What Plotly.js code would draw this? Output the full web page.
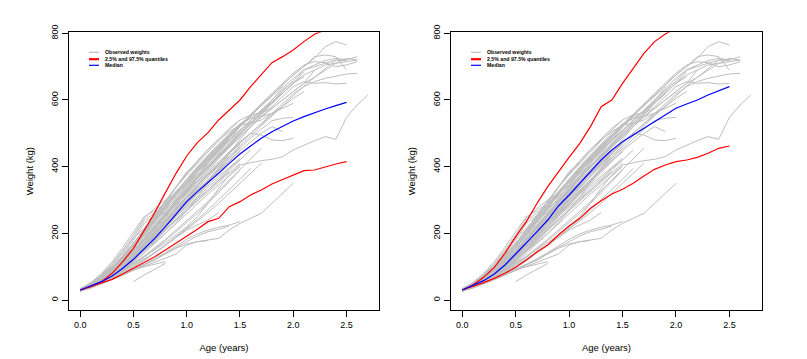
<!DOCTYPE html>
<html>
<head>
<meta charset="utf-8">
<script src="https://cdn.plot.ly/plotly-3.0.1.min.js"></script>
<style>
body { margin: 0; background: #fff; }
#myDiv { width: 807px; height: 359px; }
</style>
</head>
<body>
<div id="myDiv"></div>
<script>
/*******************************************************************************************
										Data
*******************************************************************************************/

// ages of the observed weights (years)
var ageGrid = [0.0,0.1,0.2,0.3,0.4,0.5,0.6,0.7,0.8,0.9,1.0,1.1,1.2,1.3,1.4,1.5,1.6,1.7,1.8,1.9,2.0,2.1,2.2,2.3,2.4,2.5,2.6,2.7];

// one row per animal, index matches ageGrid, null = not weighed
var observedWeights = [
	[30,45,62,85,112,145,180,215,255,292,330,365,400,440,480,520],
	[28,40,55,78,105,135,168,200,232,262,290,318,345,372,398,425],
	[32,48,68,92,120,155,192,230,268,305,340,372,405,438,470,500,530],
	[27,38,52,70,92,118,148,180,212,245,275,305,330,358,385],
	[31,47,66,90,122,158,198,240,280,318,355,390,425,458,490,525,555],
	[29,42,58,80,106,134,165,195,225,252,280,310,338,365,395,420],
	[30,44,60,82,110,142,176,212,250,285,318,350,380,412,440,468],
	[26,36,50,66,88,112,140,170,198,228,258,288,318,345,372,400],
	[33,50,70,96,128,165,205,245,285,322,358,392,428,462,495,528],
	[28,41,56,76,100,128,158,190,222,255,288,322,355,390,425,460],
	[30,46,64,88,116,150,188,225,262,298,332,365,398,430,460,488],
	[27,39,54,72,95,122,152,182,212,240,268,296,325,352,380,410],
	[31,45,63,86,114,146,182,220,258,296,332,368,402,435,468,500],
	[29,43,60,83,110,140,172,205,238,270,300,330,360,390,418,445],
	[32,49,70,98,132,170,212,252,290,326,360,395,430,462,495],
	[28,40,54,73,97,124,155,188,220,252,285,318,350,382,415,448],
	[30,45,62,84,112,144,180,218,255,290,325,358,392,425,458],
	[26,37,50,68,90,116,145,176,208,240,270,300,330,360,390,420,450],
	[34,52,74,100,132,170,212,255,298,338,375,410,445,478,510,540],
	[29,42,57,78,102,130,160,192,225,258,292,325,360,395,430],
	[31,46,63,86,115,148,185,222,258,292,325,355,385,415,445,475,500],
	[28,40,55,75,100,128,160,195,230,265,300,335,370,405,440],
	[30,44,60,82,110,142,178,215,252,290,328,365,400,435,470,505,540,570,600,630,655],
	[29,42,58,79,104,133,166,200,236,272,308,342,376,410,442,472,500,528,555,580,605,625],
	[31,47,66,90,120,155,194,235,275,315,352,388,422,455,488,520,552,582,610,640],
	[27,39,54,74,98,126,158,192,226,260,292,325,356,388,418,448,475,500,520,505],
	[32,48,68,93,123,158,197,238,278,316,352,385,418,450,480,510,540,568,595,620,650,685],
	[28,41,56,76,101,130,162,197,232,266,298,330,360,392,425,455,485,512,538,545,548],
	[30,45,63,86,114,147,184,222,260,297,332,366,398,430,462,495,528,560,590,620],
	[29,43,59,80,106,136,170,206,242,278,312,345,378,410,442,472,500,495,480,478,485],
	[30,46,65,90,120,155,195,236,276,315,352,388,422,455,488,520,552,585,615,645,675,700,725,760,775,765],
	[29,43,60,82,110,142,178,216,254,292,328,364,398,432,465,498,530,562,595,628,660,690,705,718,725,720,730],
	[31,47,66,91,122,158,198,240,282,322,360,396,430,462,494,525,556,588,620,650,680,705,715,712,700,705,715],
	[28,41,57,78,104,134,168,204,240,276,310,344,376,408,440,470,500,530,560,590,618,640,655,665,672,678,680],
	[30,44,61,84,112,144,180,218,256,294,330,364,398,430,460,490,520,550,580,610,640,655,650,652,648,650],
	[27,40,55,76,101,130,163,198,234,270,304,338,370,402,432,462,492,522,552,582,612,642,668,695,720,718],
	[32,48,68,94,125,162,202,244,285,325,362,398,432,465,496,526,556,586,615,645,675,700,730,735,730,690],
	[30,42,56,72,90,110,130,150,172,195,220,250,290,335,375,405,412,418,422,430,450,465,478,490,482,548,585,615],
	[null,null,null,null,null,55,75,92,110],
	[28,40,55,68,80,92,105,120,140,158,175,192,205,212,222],
	[30,40,52,64,76,88,100,112,125,138,165,175,180,185,210,230,245,260,290,320,350],
	[29,38,50,62,75,90,105,120,138,155,168,175,178],
	[27,36,48,60,74,90,106,124,142,162,182,198,210,218,225,235],
	[null,null,null,65,80,92,100,108,115],
	[30,41,55,70,86,104,122,142,165,188,210,225,240,262],
	[30,48,70,98,135,180,230,255,275,300,335,370,410,445,480,510],
	[31,50,74,105,145,185,215,248,262,290,325],
	[29,46,68,96,130,170,210,240,270,305,345,385,420,455,490,520,548],
	[28,38,50,66,88,115,150,190,235,280,325,368,410,450,490,525,545,550,560,575,590],
	[30,45,62,80,100,122,146,172,200,232,268,308,350,395,440,482,520,555,590,620,650,675,690,705,710,715,720],
	[30,50,76,110,150,195,245,275,300,320,345,380,415,450,485],
	[32,52,80,115,158,205,250,268,290,318,350,385,420,452],
	[29,47,72,104,142,188,238,262,282,310,342,378,412,445,478,508,535],
	[28,42,58,80,105,135,170,205,240,275,310,340],
	[30,44,62,85,112,145,182,220,258,298,335,370,400],
	[27,38,52,70,92,118,150,185,222,260,298],
	[31,46,65,90,120,158,200,245,292,338,385,410],
	[29,40,54,72,94,120,150,182,215,250,285,320,355,390],
	[28,39,52,68,86,106,128,152,178,205,232,260,290,322,355,390],
	[30,40,52,66,82,100,120,142,165,190,215,242,270,300,330,362,395],
	[27,37,49,63,80,98,118,140,163,188,212,238,262,290,320,350,382,410],
	[29,41,55,71,90,110,132,156,182,210,238,265,295,328,360,392,425,455],
	[31,48,68,94,126,164,206,250,295,338,378,415,450,480,505,525,530,540,560,580],
	[30,46,65,90,120,156,196,238,280,322,362,400,435,468,500,528,548,565,590,620,650,670],
	[33,51,72,99,132,170,212,255,298,340,380,418,452,485,515,540,555,562,575,600,625,650,690],
	[29,43,60,82,108,138,172,208,246,284,320,355,390,425,458,490,520,548,575,600,625,650,668,690,710,725,720],
	[30,44,62,84,111,142,178,215,254,292,330,366,400,434,466,498,530,565,600,635,665,690,700,710,720,722]
];

// ages of the quantile and median curves
var quantAges = [0.0,0.1,0.2,0.3,0.4,0.5,0.6,0.7,0.8,0.9,1.0,1.1,1.2,1.3,1.4,1.5,1.6,1.7,1.8,1.9,2.0,2.1,2.2,2.3,2.4,2.5];

// left panel
var leftUpper  = [30,40,55,80,115,155,208,262,322,380,432,472,502,540,570,600,640,675,712,730,750,775,797,810,830,850];
var leftLower  = [30,40,50,62,78,95,112,130,150,170,192,212,235,245,280,295,315,330,348,362,375,388,390,400,408,415];
var leftMedian = [30,42,55,72,95,122,152,185,220,258,295,325,352,380,410,438,462,485,505,522,537,550,562,573,583,593];

// right panel
var rightUpper  = [30,45,68,98,140,190,235,290,340,385,428,470,520,580,600,650,695,740,775,798,815,830,845,860,870,880];
var rightLower  = [30,40,52,65,80,98,120,145,165,195,222,245,275,298,318,332,350,372,392,405,415,420,428,440,455,462];
var rightMedian = [30,43,58,78,105,138,170,205,240,282,315,350,385,420,450,475,495,515,535,555,575,588,600,615,628,640];

var legendLabels = ["Observed weights", "2.5% and 97.5% quantiles", "Median"];
var legendColors = ["#BEBEBE", "#FF0000", "#0000FF"];


/*******************************************************************************************
										Traces
*******************************************************************************************/

function create_line(x, y, color, width, xa, ya){
	return {
	  x: x,
	  y: y,
	  type: "scatter",
	  mode: "lines",
	  line: {color: color, width: width},
	  xaxis: xa,
	  yaxis: ya,
	  showlegend: false,
	  hoverinfo: "skip"
	};
}

function panel_traces(upper, lower, median, xa, ya){
	var data = [];
	for (var animal of observedWeights) {
		var x = ageGrid.slice(0, animal.length);
		data.push(create_line(x, animal, legendColors[0], 1, xa, ya));
	}
	data.push(create_line(quantAges, upper, legendColors[1], 1.2, xa, ya));
	data.push(create_line(quantAges, lower, legendColors[1], 1.2, xa, ya));
	data.push(create_line(quantAges, median, legendColors[2], 1.2, xa, ya));
	return data;
}


/*******************************************************************************************
										Layout
*******************************************************************************************/

var W = 807, H = 359;
var yDom = [49 / H, 326.7 / H];

function make_xaxis(domain, anchor){
	return {
	  domain: domain,
	  anchor: anchor,
	  range: [-0.105, 2.805],
	  tickvals: [0, 0.5, 1, 1.5, 2, 2.5],
	  tickformat: ".1f",
	  ticks: "outside",
	  ticklen: 6,
	  tickcolor: "#000",
	  showline: true,
	  mirror: true,
	  linecolor: "#000",
	  linewidth: 1,
	  showgrid: false,
	  zeroline: false,
	  tickfont: {size: 9, color: "#000"},
	  title: {text: "Age (years)", font: {size: 9.5, color: "#000"}, standoff: 15}
	};
}

function make_yaxis(anchor){
	return {
	  domain: yDom,
	  anchor: anchor,
	  range: [-30, 803],
	  tickvals: [0, 200, 400, 600, 800],
	  tickangle: -90,
	  ticks: "outside",
	  ticklen: 6,
	  tickcolor: "#000",
	  showline: true,
	  mirror: true,
	  linecolor: "#000",
	  linewidth: 1,
	  showgrid: false,
	  zeroline: false,
	  tickfont: {size: 9, color: "#000"},
	  title: {text: "Weight (kg)", font: {size: 9.5, color: "#000"}, standoff: 15}
	};
}

// hand drawn legend (no box) inside each panel
function legend_bits(xStart){
	var shapes = [];
	var notes = [];
	var rows = [52.3, 59.2, 65.3];
	for (var i = 0; i < legendLabels.length; i++) {
		shapes.push({
		  type: "line", xref: "paper", yref: "paper",
		  x0: xStart / W, x1: (xStart + 10) / W,
		  y0: 1 - rows[i] / H, y1: 1 - rows[i] / H,
		  line: {color: legendColors[i], width: i == 1 ? 2.2 : 1.2}
		});
		notes.push({
		  xref: "paper", yref: "paper",
		  x: (xStart + 14) / W, y: 1 - rows[i] / H,
		  xanchor: "left", yanchor: "middle",
		  text: legendLabels[i], showarrow: false,
		  font: {size: 5.2, color: "#000", weight: "bold"}
		});
	}
	return {shapes: shapes, notes: notes};
}

function plot_chart(){
	var data = panel_traces(leftUpper, leftLower, leftMedian, "x", "y")
		.concat(panel_traces(rightUpper, rightLower, rightMedian, "x2", "y2"));

	var legL = legend_bits(89);
	var legR = legend_bits(471);

	var layout = {
	  width: W,
	  height: H,
	  margin: {l: 0, r: 0, t: 0, b: 0},
	  paper_bgcolor: "#fff",
	  plot_bgcolor: "#fff",
	  font: {family: "Liberation Sans, Arial, sans-serif", color: "#000"},
	  showlegend: false,
	  xaxis: make_xaxis([69 / W, 379 / W], "y"),
	  yaxis: make_yaxis("x"),
	  xaxis2: make_xaxis([451 / W, 762 / W], "y2"),
	  yaxis2: make_yaxis("x2"),
	  shapes: legL.shapes.concat(legR.shapes),
	  annotations: legL.notes.concat(legR.notes)
	};
	var config = {staticPlot: true, displayModeBar: false};
	Plotly.newPlot('myDiv', data, layout, config);
}

plot_chart();
</script>
</body>
</html>
